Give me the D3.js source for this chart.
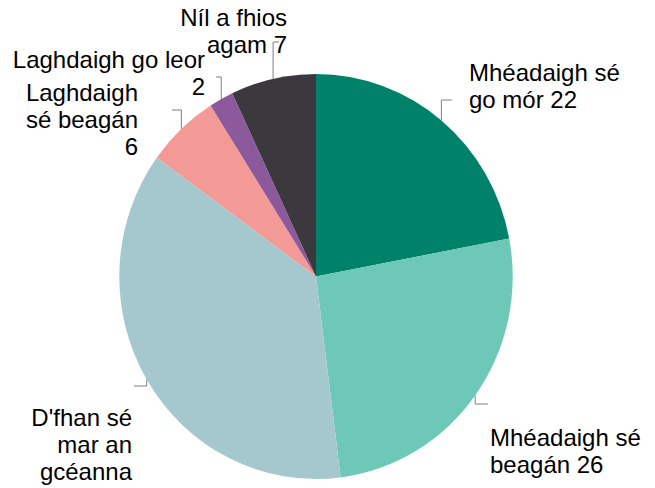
<!DOCTYPE html>
<html>
<head>
<meta charset="utf-8">
<script src="https://cdn.jsdelivr.net/npm/d3@7"></script>
<style>
  body { margin: 0; background: #fff; }
  svg { display: block; font-family: Arial, "Liberation Sans", sans-serif; }
</style>
</head>
<body>
<div id="chart"></div>
<script>
let width = 655,
    height = 488;

// data
let categories = ["Mhéadaigh sé go mór", "Mhéadaigh sé beagán", "D'fhan sé mar an gcéanna",
                  "Laghdaigh sé beagán", "Laghdaigh go leor", "Níl a fhios agam"];
let values = [22, 26, 37, 6, 2, 7];
let colors = ["#00816a", "#6dc8b7", "#a5c8cf", "#f39a96", "#8c5a9c", "#3c393e"];

// label text lines as shown in the picture
let labelLines = [
  ["Mhéadaigh sé", "go mór 22"],
  ["Mhéadaigh sé", "beagán 26"],
  ["D'fhan sé", "mar an", "gcéanna"],
  ["Laghdaigh", "sé beagán", "6"],
  ["Laghdaigh go leor", "2"],
  ["Níl a fhios", "agam 7"]
];

// label layout: text anchor point, first baseline, leader elbow end
let labelLayout = [
  { x: 469, y: 81, anchor: "start", elbow: [452, 100] },
  { x: 490, y: 446, anchor: "start", elbow: [488, 404] },
  { x: 132, y: 426, anchor: "end", elbow: [134, 386] },
  { x: 138, y: 101, anchor: "end", elbow: [172, 110] },
  { x: 205, y: 68, anchor: "end", elbow: [216, 77] },
  { x: 287, y: 26, anchor: "end", elbow: [279, 42] }
];
let lineGap = 27;

let cx = 316, cy = 276.5,
    rx = 196.7, ry = 202.5;

let svg = d3.select("#chart")
    .append("svg")
    .attr("width", width)
    .attr("height", height);

let pie = d3.pie().sort(null).value(d => d)(values);
let arc = d3.arc().innerRadius(0).outerRadius(rx);

svg.append("g")
    .attr("transform", `translate(${cx},${cy}) scale(1,${ry / rx})`)
    .selectAll("path")
    .data(pie)
    .enter().append("path")
    .attr("d", arc)
    .attr("fill", (d, i) => colors[i]);

// leader lines from slice edge (mid angle) to label elbow
let edgePoint = (d) => {
  let a = (d.startAngle + d.endAngle) / 2;
  return [cx + rx * Math.sin(a), cy - ry * Math.cos(a)];
};

svg.append("g")
    .selectAll("polyline")
    .data(pie)
    .enter().append("polyline")
    .attr("points", (d, i) => {
      let e = edgePoint(d);
      let el = labelLayout[i].elbow;
      return [e, [e[0], el[1]], el].map(p => p.join(",")).join(" ");
    })
    .attr("fill", "none")
    .attr("stroke", "#7f7f7f")
    .attr("stroke-width", 1);

let labels = svg.append("g")
    .selectAll("text")
    .data(labelLines)
    .enter().append("text")
    .attr("font-size", 24)
    .attr("fill", "#000")
    .attr("text-anchor", (d, i) => labelLayout[i].anchor);

labels.each(function (lines, i) {
  let l = labelLayout[i];
  d3.select(this).selectAll("tspan")
      .data(lines)
      .enter().append("tspan")
      .attr("x", l.x)
      .attr("y", (t, j) => l.y + j * lineGap)
      .text(t => t);
});
</script>
</body>
</html>
